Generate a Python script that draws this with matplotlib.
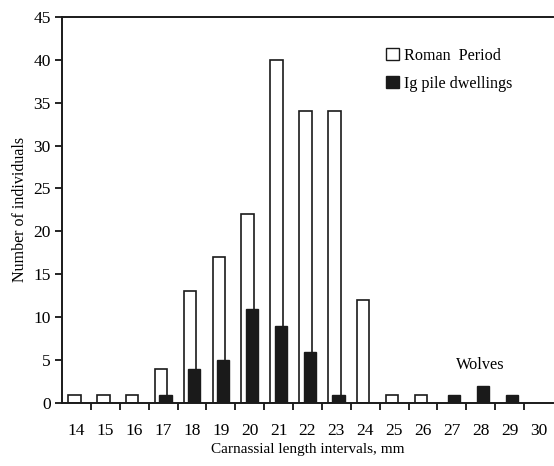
import matplotlib
matplotlib.use("Agg")
import matplotlib.pyplot as plt
from matplotlib.patches import Patch

# carnassial length classes (mm) and counts
lengths = list(range(14, 31))
roman = [1, 1, 1, 4, 13, 17, 22, 40, 34, 34, 12, 1, 1, 0, 0, 0, 0]
ig_pile = [0, 0, 0, 1, 4, 5, 11, 9, 6, 1, 0, 0, 0, 1, 2, 1, 0]

plt.rcParams["font.family"] = ["Liberation Serif", "DejaVu Serif"]

fig = plt.figure(figsize=(5.54, 4.66), dpi=100)
ax = fig.add_axes([0.112, 0.135, 0.886, 0.829])

W = 0.43
xs = [x for x, v in zip(lengths, roman) if v > 0]
vs = [v for v in roman if v > 0]
ax.bar([x - 0.07 for x in xs], vs, width=W, facecolor="white",
       edgecolor="#1a1a1a", lw=1.2, zorder=2)
xs = [x for x, v in zip(lengths, ig_pile) if v > 0]
vs = [v for v in ig_pile if v > 0]
ax.bar([x + 0.08 for x in xs], vs, width=W, facecolor="#1a1a1a",
       edgecolor="#1a1a1a", lw=1.0, zorder=3)

ax.set_xlim(13.5, 30.5)
ax.set_ylim(0, 45)
ax.set_yticks(range(0, 46, 5))

# boundary ticks without labels, class labels in the middle
ax.set_xticks([x + 0.5 for x in lengths[:-1]])
ax.set_xticklabels([])
ax.set_xticks(lengths, minor=True)
ax.set_xticklabels([str(x) for x in lengths], minor=True)
ax.tick_params(axis="x", which="major", direction="out", length=5, width=1.2)
ax.tick_params(axis="x", which="minor", length=0, pad=14, labelsize=12.5)
ax.tick_params(axis="y", direction="out", length=5, width=1.2, labelsize=12.5, pad=3)

for s in ["left", "bottom", "top"]:
    ax.spines[s].set_linewidth(1.4)
    ax.spines[s].set_color("#1a1a1a")
ax.spines["right"].set_visible(False)

ax.set_xlabel("Carnassial length intervals, mm", fontsize=11, labelpad=3)
ax.set_ylabel("Number of individuals", fontsize=11.5, labelpad=4)

ax.text(28, 3.5, "Wolves", fontsize=11.7, ha="center", va="bottom")

handles = [Patch(facecolor="white", edgecolor="#1a1a1a", lw=1.0),
           Patch(facecolor="#1a1a1a", edgecolor="#1a1a1a")]
ax.legend(handles, ["Roman  Period", "Ig pile dwellings"], loc="upper left",
          bbox_to_anchor=(0.63, 0.958), frameon=False, fontsize=11.6,
          handlelength=0.8, handleheight=0.8, handletextpad=0.3, labelspacing=0.75)

fig.savefig("out.png", dpi=100, facecolor="white")
